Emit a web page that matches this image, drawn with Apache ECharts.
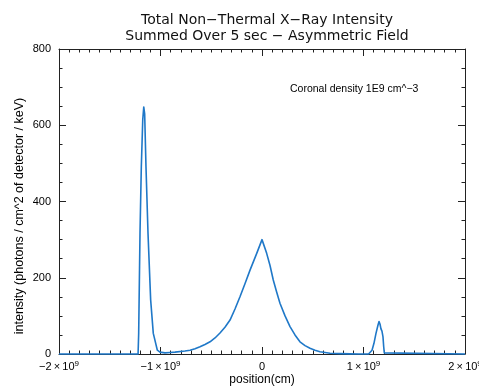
<!DOCTYPE html>
<html>
<head>
<meta charset="utf-8">
<script src="https://cdn.jsdelivr.net/npm/echarts@6/dist/echarts.min.js"></script>
<style>
  html, body { margin: 0; padding: 0; background: #fff; }
  #chart { width: 479px; height: 388px; }
</style>
</head>
<body>
<div id="chart"></div>
<script>
// Position along the loop (cm)
const positionCm = [
  -2.0e9, -1.221e9, -1.215e9, -1.202e9, -1.189e9, -1.175e9, -1.165e9, -1.156e9,
  -1.143e9, -1.123e9, -1.097e9, -1.071e9, -1.031e9, -1.005e9, -0.956e9, -0.906e9,
  -0.857e9, -0.759e9, -0.709e9, -0.660e9, -0.611e9, -0.562e9, -0.512e9, -0.463e9,
  -0.414e9, -0.365e9, -0.315e9, -0.266e9, -0.217e9, -0.167e9, -0.118e9, -0.052e9,
  0, 0.046e9, 0.079e9, 0.111e9, 0.145e9, 0.177e9, 0.227e9, 0.276e9,
  0.325e9, 0.374e9, 0.424e9, 0.473e9, 0.522e9, 0.571e9, 0.621e9, 0.670e9,
  0.768e9, 0.867e9, 0.95e9, 1.05e9, 1.064e9, 1.084e9, 1.103e9, 1.123e9,
  1.143e9, 1.153e9, 1.163e9, 1.172e9, 1.182e9, 1.192e9, 1.199e9, 1.205e9,
  1.212e9, 2.0e9
];
// Summed non-thermal X-ray intensity (photons / cm^2 of detector / keV)
const intensity = [
  0, 0, 54, 316, 491, 614, 648, 630,
  491, 316, 142, 54, 10, 5, 3, 4,
  5, 8, 10, 14, 19, 25, 32, 42,
  55, 70, 89, 118, 150, 185, 220, 264,
  300, 264, 232, 194, 162, 133, 100, 72,
  50, 32, 22, 15, 10, 6, 4, 2,
  1, 0.3, 0, 0, 1, 10, 28, 54,
  76, 85, 78, 66, 60, 45, 19, 3,
  0, 0
];
// Tick label text for the position axis: [mantissa, exponent]
const xTickText = {
  '-2000000000': ['−2\u2009×\u200910', '9'],
  '-1000000000': ['−1\u2009×\u200910', '9'],
  '0': ['0', ''],
  '1000000000': ['1\u2009×\u200910', '9'],
  '2000000000': ['2\u2009×\u200910', '9']
};
const titleLines = ['Total Non−Thermal X−Ray Intensity', 'Summed Over 5 sec − Asymmetric Field'];
const yName = 'intensity (photons / cm^2 of detector / keV)';
const xName = 'position(cm)';
const noteText = 'Coronal density 1E9 cm^−3';

const FONT = '"Liberation Sans", Arial, sans-serif';
const WIDE_FONT = '"DejaVu Sans", sans-serif';
const AXIS_COLOR = '#222';
const LINE_COLOR = '#1f78c8';

const chart = echarts.init(document.getElementById('chart'), null, { renderer: 'canvas' });

const seriesData = positionCm.map((x, i) => [x, intensity[i]]);

const boxAxisLine = { show: true, onZero: false, lineStyle: { color: AXIS_COLOR, width: 1 } };
const majorTick = { show: true, inside: true, length: 7, lineStyle: { color: AXIS_COLOR } };
const minorTickX = { show: true, splitNumber: 10, length: 3.5, lineStyle: { color: AXIS_COLOR } };
const minorTickY = { show: true, splitNumber: 4, length: 3.5, lineStyle: { color: AXIS_COLOR } };

chart.setOption({
  animation: false,
  backgroundColor: '#fff',
  title: {
    text: titleLines.join('\n'),
    left: 262,
    top: 7,
    textAlign: 'center',
    textStyle: { fontFamily: WIDE_FONT, fontSize: 14, fontWeight: 'normal', color: '#111', lineHeight: 16 }
  },
  grid: {
    left: 59, right: 14, top: 49, bottom: 34,
    containLabel: false, outerBoundsMode: 'none'
  },
  xAxis: [
    {
      type: 'value', min: -2e9, max: 2e9, interval: 1e9, position: 'bottom',
      axisLine: boxAxisLine,
      axisTick: majorTick,
      minorTick: minorTickX,
      splitLine: { show: false },
      axisLabel: {
        margin: 6,
        formatter: v => {
          const t = xTickText[String(Math.round(v))];
          if (!t) return '';
          return t[1] ? '{m|' + t[0] + '}{e|' + t[1] + '}' : '{m|' + t[0] + '}';
        },
        rich: {
          m: { fontFamily: FONT, fontSize: 11, color: '#000', lineHeight: 14 },
          e: { fontFamily: FONT, fontSize: 8, color: '#000', lineHeight: 14, verticalAlign: 'top' }
        }
      }
    },
    {
      type: 'value', min: -2e9, max: 2e9, interval: 1e9, position: 'top',
      axisLine: boxAxisLine,
      axisTick: majorTick,
      minorTick: minorTickX,
      splitLine: { show: false },
      axisLabel: { show: false }
    }
  ],
  yAxis: [
    {
      type: 'value', min: 0, max: 800, interval: 200, position: 'left',
      axisLine: boxAxisLine,
      axisTick: majorTick,
      minorTick: minorTickY,
      splitLine: { show: false },
      axisLabel: { margin: 8, fontFamily: FONT, fontSize: 11, color: '#000' }
    },
    {
      type: 'value', min: 0, max: 800, interval: 200, position: 'right',
      axisLine: boxAxisLine,
      axisTick: majorTick,
      minorTick: minorTickY,
      splitLine: { show: false },
      axisLabel: { show: false }
    }
  ],
  graphic: [
    {
      type: 'text', x: 20, y: 216, rotation: Math.PI / 2, z: 10,
      style: {
        text: yName, fontFamily: FONT, fontSize: 12.5, fill: '#000',
        align: 'center', verticalAlign: 'middle'
      }
    },
    {
      type: 'text', x: 262, y: 380, z: 10,
      style: {
        text: xName, fontFamily: FONT, fontSize: 12, fill: '#000',
        align: 'center', verticalAlign: 'middle'
      }
    },
    {
      type: 'text', left: 290, top: 84, z: 10,
      style: { text: noteText, fontFamily: FONT, fontSize: 10.5, fill: '#000' }
    }
  ],
  series: [
    {
      type: 'line',
      xAxisIndex: 0, yAxisIndex: 0,
      data: seriesData,
      showSymbol: false,
      smooth: false,
      clip: false,
      lineStyle: { color: LINE_COLOR, width: 1.6, join: 'round' },
      z: 5
    }
  ]
});
</script>
</body>
</html>
